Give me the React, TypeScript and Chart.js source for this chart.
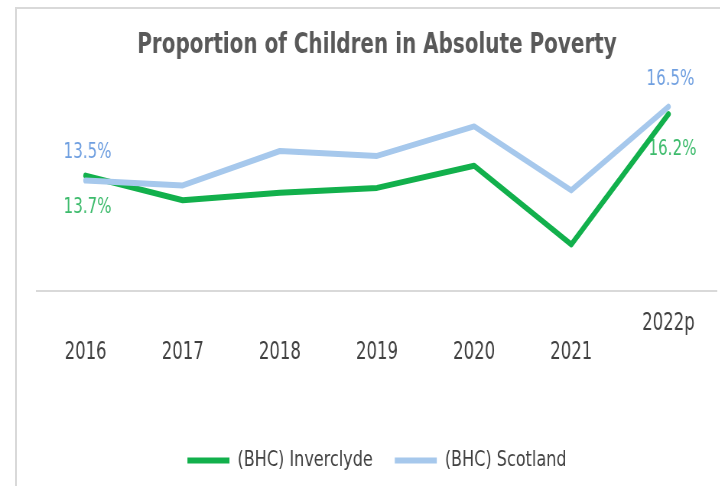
import React, { useEffect, useRef } from "react";
import { Chart, registerables } from "chart.js";

Chart.register(...registerables);

// ---- data ----
const categories = ["2016", "2017", "2018", "2019", "2020", "2021", "2022p"];
const inverclyde = [13.7, 12.7, 13.0, 13.2, 14.1, 10.9, 16.2];
const scotland = [13.5, 13.3, 14.7, 14.5, 15.7, 13.1, 16.5];
const seriesNames = ["(BHC) Inverclyde", "(BHC) Scotland"];
const titleText = "Proportion of Children in Absolute Poverty";
const raisedTicks = ["2022p"];
const yMin = 9;
const yMax = 18;

// ---- styles ----
// The reference text is horizontally condensed; the canvas is drawn wider and squeezed with CSS.
const SQUEEZE = 0.765;
const CSS_W = 754;
const CSS_H = 481;
const INT_W = Math.round(CSS_W / SQUEEZE);
const sx = (px: number) => px / SQUEEZE;

const FONT = "'DejaVu Sans Condensed', 'Liberation Sans Narrow', sans-serif";
const LEGEND_FONT = "'DejaVu Sans', sans-serif";
const GREEN = "#12b04c";
const BLUE = "#a6c8ec";
const GREEN_LABEL = "#3dbb6c";
const BLUE_LABEL = "#6f9fe0";
const labelStyles = [
  { color: GREEN_LABEL, dx: [2, 4], dy: [32, 35] },
  { color: BLUE_LABEL, dx: [2, 2], dy: [-28, -27] },
];

const endLabels = {
  id: "endLabels",
  beforeDatasetsDraw(chart: any) {
    const ctx = chart.ctx;
    ctx.save();
    ctx.font = `22px ${FONT}`;
    ctx.textAlign = "center";
    ctx.textBaseline = "middle";
    chart.data.datasets.forEach((ds: any, di: number) => {
      const meta = chart.getDatasetMeta(di);
      const st = labelStyles[di];
      const idxs = [0, meta.data.length - 1];
      idxs.forEach((idx, k) => {
        const pt = meta.data[idx];
        const v = ds.data[idx] as number;
        ctx.fillStyle = st.color;
        ctx.fillText(v.toFixed(1) + "%", pt.x + sx(st.dx[k]), pt.y + st.dy[k]);
      });
    });
    ctx.restore();
  },
};

export default function App() {
  const ref = useRef<HTMLCanvasElement | null>(null);

  useEffect(() => {
    if (!ref.current) return;
    const chart = new Chart(ref.current, {
      type: "line",
      data: {
        labels: categories,
        datasets: [
          {
            label: seriesNames[0],
            data: inverclyde,
            borderColor: GREEN,
            backgroundColor: GREEN,
            borderWidth: 6,
            pointRadius: 0,
            tension: 0,
            borderJoinStyle: "round",
            borderCapStyle: "round",
            order: 1,
          },
          {
            label: seriesNames[1],
            data: scotland,
            borderColor: BLUE,
            backgroundColor: BLUE,
            borderWidth: 6,
            pointRadius: 0,
            tension: 0,
            borderJoinStyle: "round",
            borderCapStyle: "round",
            order: 0,
          },
        ],
      },
      options: {
        responsive: false,
        animation: false,
        devicePixelRatio: 1,
        layout: { padding: { top: 20, left: sx(37), right: sx(37), bottom: 0 } },
        plugins: {
          title: {
            display: true,
            text: titleText,
            color: "#595959",
            font: { family: FONT, size: 29, weight: "bold" },
            padding: { top: 8, bottom: 7 },
          },
          legend: {
            position: "bottom",
            labels: {
              usePointStyle: true,
              pointStyle: "line",
              pointStyleWidth: sx(42),
              color: "#404040",
              font: { family: LEGEND_FONT, size: 21 },
              padding: sx(22),
              sort: (a: any, b: any) => a.datasetIndex - b.datasetIndex,
            },
          },
          tooltip: { enabled: false },
        },
        scales: {
          x: {
            offset: true,
            grid: { display: false, drawTicks: false },
            border: { display: true, color: "#d9d9d9", width: 2 },
            ticks: {
              color: "#404040",
              font: { family: FONT, size: 24, lineHeight: 1.2 },
              padding: 18,
              maxRotation: 0,
              autoSkip: false,
              callback: function (this: any, value: any) {
                const lbl = this.getLabelForValue(value);
                return raisedTicks.includes(lbl) ? lbl : ["", lbl];
              },
            },
            afterFit: (scale: any) => {
              scale.height = 130;
            },
          },
          y: {
            display: false,
            min: yMin,
            max: yMax,
          },
        },
      },
      plugins: [endLabels],
    });
    return () => chart.destroy();
  }, []);

  return (
    <div
      style={{
        position: "fixed",
        left: 0,
        top: 0,
        width: 720,
        height: 486,
        overflow: "hidden",
        background: "#ffffff",
      }}
    >
      <div
        style={{
          position: "absolute",
          left: 15,
          top: 7,
          width: 760,
          height: 520,
          border: "2px solid #d9d9d9",
          boxSizing: "border-box",
        }}
      />
      <canvas
        ref={ref}
        width={INT_W}
        height={CSS_H}
        style={{ position: "absolute", left: 0, top: 0, width: CSS_W, height: CSS_H }}
      />
    </div>
  );
}
